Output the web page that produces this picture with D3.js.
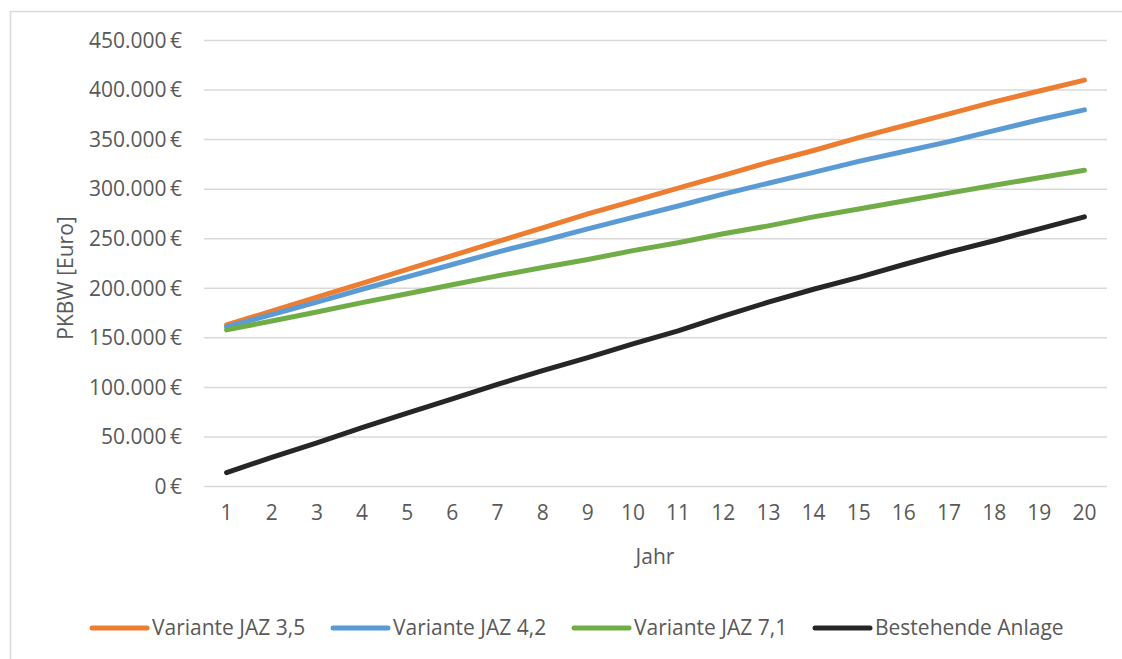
<!DOCTYPE html>
<html><head><meta charset="utf-8">
<script src="https://cdn.jsdelivr.net/npm/d3@7"></script>
<style>
html,body{margin:0;padding:0;background:#fff;}
svg{display:block;}
svg text{font-family:"Open Sans","Noto Sans",sans-serif !important;}
</style></head>
<body>
<svg id="c" width="1122" height="659"></svg>
<script>
const years = [1,2,3,4,5,6,7,8,9,10,11,12,13,14,15,16,17,18,19,20];
const jaz35 = [163000,177000,191000,205000,219000,233000,247000,261000,275000,288000,301000,314000,327000,339000,352000,364000,376000,388000,399000,410000];
const jaz42 = [161000,173500,186000,199000,211500,224000,236500,248000,260000,271500,283000,295000,306000,317000,328000,338000,348000,359000,370000,380000];
const jaz71 = [158000,167000,176000,185500,194500,203500,212500,221000,229000,238000,246000,255000,263000,272000,280000,288000,296000,304000,311500,319000];
const bestehend = [14000,29500,44000,59500,74000,88500,103000,117000,130000,144000,157000,172000,186000,199000,211000,224000,236500,248000,260000,272000];
const seriesNames = ["Variante JAZ 3,5","Variante JAZ 4,2","Variante JAZ 7,1","Bestehende Anlage"];
const seriesColors = ["#ED7D31","#5B9BD5","#70AD47","#262626"];
const yTicks = [0,50000,100000,150000,200000,250000,300000,350000,400000,450000];

const FS = "21px";
const svg = d3.select("#c");
svg.append("rect").attr("x",10.5).attr("y",11.5).attr("width",1200).attr("height",700)
  .attr("fill","#fff").attr("stroke","#D9D9D9").attr("stroke-width",1.5);

const x = d3.scaleBand().domain(years).range([204,1107]).padding(0);
const y = d3.scaleLinear().domain([0,450000]).range([486.5,40.5]);
const loc = d3.formatLocale({decimal:",",thousands:".",grouping:[3],currency:["",""]});
const fmt = v => loc.format(",")(v) + "\u2009€";

// grid
svg.append("g").selectAll("line").data(yTicks).join("line")
  .attr("x1",204).attr("x2",1107).attr("y1",d=>y(d)).attr("y2",d=>y(d))
  .attr("stroke","#D9D9D9").attr("stroke-width",1.5);

// y axis
const ya = svg.append("g").attr("transform","translate(204,0)")
  .call(d3.axisLeft(y).tickValues(yTicks).tickFormat(fmt).tickSize(0).tickPadding(22));
ya.select(".domain").remove();
ya.selectAll("text").attr("fill","#595959").style("font-size",FS);

// x axis
const xa = svg.append("g").attr("transform","translate(0,486.5)")
  .call(d3.axisBottom(x).tickSize(0).tickPadding(19));
xa.select(".domain").remove();
xa.selectAll("text").attr("fill","#595959").style("font-size",FS);

// titles
svg.append("text").attr("x",655).attr("y",564).attr("text-anchor","middle")
  .attr("fill","#595959").style("font-size",FS).text("Jahr");
svg.append("text").attr("transform","translate(73,278) rotate(-90)").attr("text-anchor","middle")
  .attr("fill","#595959").style("font-size",FS).text("PKBW [Euro]");

// lines
const data = [jaz35,jaz42,jaz71,bestehend];
const line = d3.line().x((d,i)=>x(years[i])+x.bandwidth()/2).y(d=>y(d));
svg.append("g").selectAll("path").data(data).join("path")
  .attr("d",line).attr("fill","none")
  .attr("stroke",(d,i)=>seriesColors[i]).attr("stroke-width",5)
  .attr("stroke-linecap","round").attr("stroke-linejoin","round");

// legend
const legX = [92,333,574,815];
const lg = svg.append("g").selectAll("g").data(seriesNames).join("g")
  .attr("transform",(d,i)=>`translate(${legX[i]},628)`);
lg.append("line").attr("x1",0).attr("x2",55).attr("y1",0).attr("y2",0)
  .attr("stroke",(d,i)=>seriesColors[i]).attr("stroke-width",5).attr("stroke-linecap","round");
lg.append("text").attr("x",60).attr("y",7).attr("fill","#595959").style("font-size",FS).text(d=>d);
</script>
</body></html>
